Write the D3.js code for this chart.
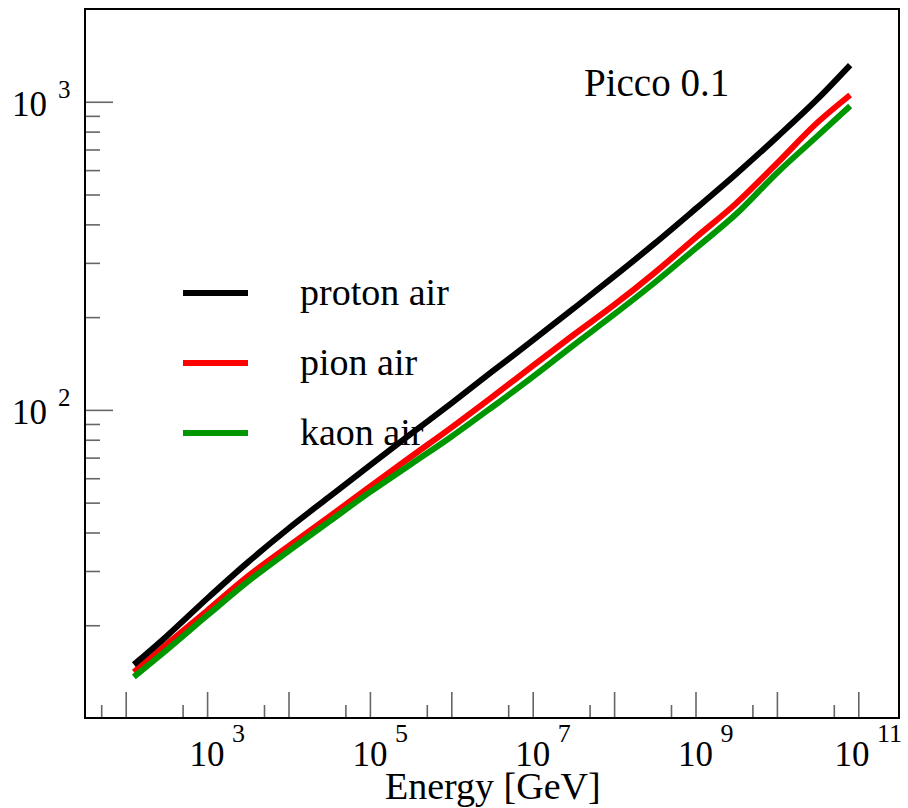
<!DOCTYPE html>
<html>
<head>
<meta charset="utf-8">
<script src="https://cdn.jsdelivr.net/npm/d3@7"></script>
<style>
  html, body { margin: 0; padding: 0; background: #fff; }
  svg { display: block; }
</style>
</head>
<body>
<svg id="chart" width="908" height="808"></svg>
<script>
// Energy points (GeV) and mean multiplicities for each projectile on air
const energy = [1.26e2, 3.16e2, 1e3, 3.16e3, 1e4, 3.16e4, 1e5, 3.16e5, 1e6, 3.16e6,
                1e7, 3.16e7, 1e8, 3.16e8, 1e9, 3.16e9, 1e10, 3.16e10, 7.94e10];
const proton = [14.9, 18.4, 24.4, 32.0, 41.2, 52.2, 66.1, 83.4, 105, 133,
                168, 213, 271, 347, 449, 583, 767, 1021, 1315];
const pion   = [14.1, 17.3, 22.3, 28.8, 36.1, 45.0, 56.3, 70.3, 87.6, 110,
                139, 175, 219, 279, 362, 468, 631, 857, 1052];
const kaon   = [13.6, 16.6, 21.5, 27.7, 34.8, 43.4, 54.1, 66.5, 81.8, 102,
                128, 162, 204, 259, 334, 432, 587, 775, 969];

const seriesNames = ["proton air", "pion air", "kaon air"];
const seriesColors = ["#000000", "#ff0000", "#009600"];

// Axis ticks
const xMajorTicks = [1e2, 1e3, 1e4, 1e5, 1e6, 1e7, 1e8, 1e9, 1e10, 1e11];
const xMinorTicks = [5e1, 5e2, 5e3, 5e4, 5e5, 5e6, 5e7, 5e8, 5e9, 5e10];
const xLabelExps  = [3, 5, 7, 9, 11];
const yMajorTicks = [1e2, 1e3];
const yMinorTicks = [20, 30, 40, 50, 60, 70, 80, 90, 200, 300, 400, 500, 600, 700, 800, 900];
const yLabelExps  = [2, 3];

const xTitle = "Energy [GeV]";
const plotLabel = "Picco 0.1";

const FONT = "'Liberation Serif', 'Times New Roman', 'DejaVu Serif', serif";
const frame = { left: 85, right: 899, top: 9, bottom: 718 };

const svg = d3.select("#chart").attr("font-family", FONT);

const x = d3.scaleLog().domain([Math.pow(10, 1.5), Math.pow(10, 11.5)]).range([frame.left, frame.right]);
const y = d3.scaleLog().domain([10, 2000]).range([frame.bottom, frame.top]);

// Tick marks drawn inward from the bottom and left edges
function tickAxis(axis, cls) {
  const g = svg.append("g").attr("class", cls).call(axis);
  g.select(".domain").remove();
  g.selectAll(".tick text").remove();
  g.selectAll(".tick line").attr("stroke", "#666").attr("stroke-width", 1.6);
  return g;
}
tickAxis(d3.axisBottom(x).tickValues(xMajorTicks).tickSizeInner(-26).tickSizeOuter(0), "x-major")
  .attr("transform", `translate(0,${frame.bottom})`);
tickAxis(d3.axisBottom(x).tickValues(xMinorTicks).tickSizeInner(-13).tickSizeOuter(0), "x-minor")
  .attr("transform", `translate(0,${frame.bottom})`);
tickAxis(d3.axisLeft(y).tickValues(yMajorTicks).tickSizeInner(-28).tickSizeOuter(0), "y-major")
  .attr("transform", `translate(${frame.left},0)`);
tickAxis(d3.axisLeft(y).tickValues(yMinorTicks).tickSizeInner(-15).tickSizeOuter(0), "y-minor")
  .attr("transform", `translate(${frame.left},0)`);

// Frame
svg.append("rect")
  .attr("x", frame.left).attr("y", frame.top)
  .attr("width", frame.right - frame.left).attr("height", frame.bottom - frame.top)
  .attr("fill", "none").attr("stroke", "#000").attr("stroke-width", 2);

function addText(parent, px, py, size, str, anchor) {
  return parent.append("text")
    .attr("x", px).attr("y", py)
    .attr("font-family", FONT)
    .attr("font-size", size)
    .attr("text-anchor", anchor || "start")
    .attr("fill", "#000")
    .text(str);
}

// X tick labels: 10^n
const xLab = svg.append("g").attr("class", "x-labels");
xLabelExps.forEach(e => {
  let cx = x(Math.pow(10, e));
  const supW = String(e).length * 12.5;
  // keep the last label inside the window
  const overflow = cx + 25 + supW - 902;
  if (overflow > 0) cx -= overflow;
  addText(xLab, cx, 766, 35, "10", "middle");
  addText(xLab, cx + 25, 742, 26, String(e), "start");
});

// Y tick labels: 10^n
const yLab = svg.append("g").attr("class", "y-labels");
yLabelExps.forEach(e => {
  const cy = y(Math.pow(10, e));
  addText(yLab, 47, cy + 14, 35, "10", "end");
  addText(yLab, 58, cy - 4, 25, String(e), "start");
});

// Axis title
addText(svg, 385, 799, 38, xTitle);

// Plot label
addText(svg, 584, 96, 39, plotLabel);

// Curves
const line = d3.line()
  .x(d => x(d[0]))
  .y(d => y(d[1]))
  .curve(d3.curveMonotoneX);

const series = [proton, pion, kaon].map((vals, i) => ({
  name: seriesNames[i],
  color: seriesColors[i],
  points: energy.map((e, j) => [e, vals[j]])
}));

const drawOrder = [1, 2, 0];
svg.append("g").attr("class", "curves")
  .selectAll("path")
  .data(drawOrder.map(i => series[i]))
  .join("path")
  .attr("d", d => line(d.points))
  .attr("fill", "none")
  .attr("stroke", d => d.color)
  .attr("stroke-width", 6)
  .attr("stroke-linejoin", "round")
  .attr("stroke-linecap", "butt");

// Legend
const legendRows = [293, 363, 433];
const legend = svg.append("g").attr("class", "legend");
series.forEach((s, i) => {
  legend.append("line")
    .attr("x1", 183).attr("x2", 248)
    .attr("y1", legendRows[i]).attr("y2", legendRows[i])
    .attr("stroke", s.color).attr("stroke-width", 6);
  addText(legend, 300, legendRows[i] + 12, 38, s.name);
});
</script>
</body>
</html>
